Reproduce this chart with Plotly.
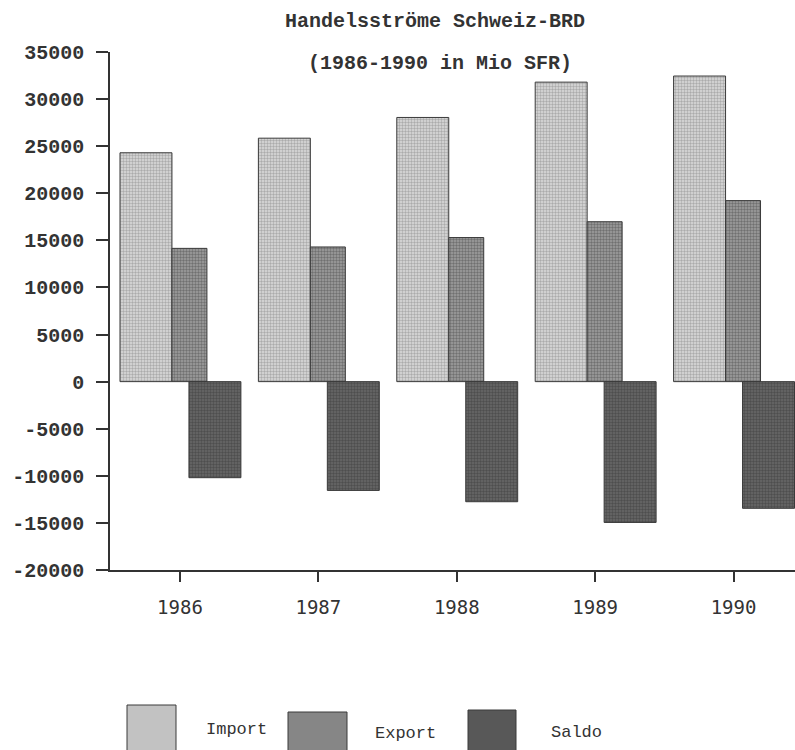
import plotly.graph_objects as go

years = [1986, 1987, 1988, 1989, 1990]
year_labels = ["1986", "1987", "1988", "1989", "1990"]
import_vals = [24300, 25850, 28050, 31800, 32450]
export_vals = [14150, 14300, 15300, 16980, 19220]
saldo_vals = [-10200, -11550, -12750, -14950, -13450]
series_names = ["Import", "Export", "Saldo"]
y_tick_vals = [35000, 30000, 25000, 20000, 15000, 10000, 5000, 0,
               -5000, -10000, -15000, -20000]
y_tick_labels = ["35000", "30000", "25000", "20000", "15000", "10000", "5000", "0",
                 "-5000", "-10000", "-15000", "-20000"]

W, H = 795, 750
L, R, T, B = 110, 0, 52, 180
PW, PH = W - L - R, H - T - B


def px(x):
    return (x - L) / PW


def py(y):
    return (H - B - y) / PH


YEAR_PX = 138.5
styles = {
    "Import": dict(bg="#dcdcdc", fg="#7a7a7a", solid="#c2c2c2", off=-60, w=52),
    "Export": dict(bg="#a0a0a0", fg="#404040", solid="#868686", off=-8, w=35),
    "Saldo": dict(bg="#686868", fg="#343434", solid="#585858", off=9, w=52),
}

fig = go.Figure()
for name, vals in zip(series_names, [import_vals, export_vals, saldo_vals]):
    s = styles[name]
    fig.add_trace(go.Bar(
        x=years, y=vals, name=name,
        offset=s["off"] / YEAR_PX, width=s["w"] / YEAR_PX,
        marker=dict(
            color=s["bg"],
            line=dict(color="#3a3a3a", width=1),
            pattern=dict(shape=".", size=3, solidity=0.5, fgcolor=s["fg"], bgcolor=s["bg"]),
        ),
        showlegend=False,
    ))

mono = "Liberation Mono, Courier New, monospace"

fig.update_layout(
    width=W, height=H,
    margin=dict(l=L, r=R, t=T, b=B, autoexpand=False),
    paper_bgcolor="white", plot_bgcolor="white",
    barmode="overlay",
    showlegend=False,
    font=dict(family=mono, color="#333333"),
)

fig.update_xaxes(
    range=[1986 - 70 / YEAR_PX, 1990 + 61.5 / YEAR_PX],
    tickmode="array", tickvals=years, ticktext=year_labels,
    ticks="outside", ticklen=10, tickwidth=1.5, tickcolor="#333333",
    showline=True, linecolor="#333333", linewidth=1.5,
    showgrid=False, zeroline=False,
    tickfont=dict(family="DejaVu Sans Mono, monospace", size=19, color="#333333"),
    ticklabelstandoff=9,
)
fig.update_yaxes(
    range=[-20000, 35000],
    tickmode="array", tickvals=y_tick_vals, ticktext=y_tick_labels,
    ticks="outside", ticklen=12, tickwidth=1.5, tickcolor="#333333",
    showline=True, linecolor="#333333", linewidth=1.5,
    showgrid=False, zeroline=False,
    tickfont=dict(family=mono, size=20, color="#333333", weight="bold"),
    ticklabelstandoff=8,
)

# Title
fig.add_annotation(text="Handelsströme Schweiz-BRD", xref="paper", yref="paper",
                   x=px(435), y=py(22), xanchor="center", yanchor="middle",
                   showarrow=False,
                   font=dict(family=mono, size=20, color="#333333", weight="bold"))
fig.add_annotation(text="(1986-1990 in Mio SFR)", xref="paper", yref="paper",
                   x=px(440), y=py(64), xanchor="center", yanchor="middle",
                   showarrow=False,
                   font=dict(family=mono, size=20, color="#333333", weight="bold"))

# Custom legend
legend_boxes = {"Import": (127, 176, 705), "Export": (288, 347, 712), "Saldo": (468, 516, 710)}
legend_text = {"Import": (236, 729), "Export": (405, 733), "Saldo": (576, 732)}
for name in series_names:
    x0, x1, y0 = legend_boxes[name]
    fig.add_shape(type="rect", xref="paper", yref="paper",
                  x0=px(x0), x1=px(x1), y0=py(y0), y1=py(765),
                  fillcolor=styles[name]["solid"], line=dict(color="#3a3a3a", width=1))
    tx, ty = legend_text[name]
    fig.add_annotation(text=name, xref="paper", yref="paper", x=px(tx), y=py(ty),
                       xanchor="center", yanchor="middle",
                       showarrow=False, font=dict(family=mono, size=17, color="#333333"))

fig.write_html("out.html", config={"displayModeBar": False},
               post_script="document.body.style.margin='0';")
